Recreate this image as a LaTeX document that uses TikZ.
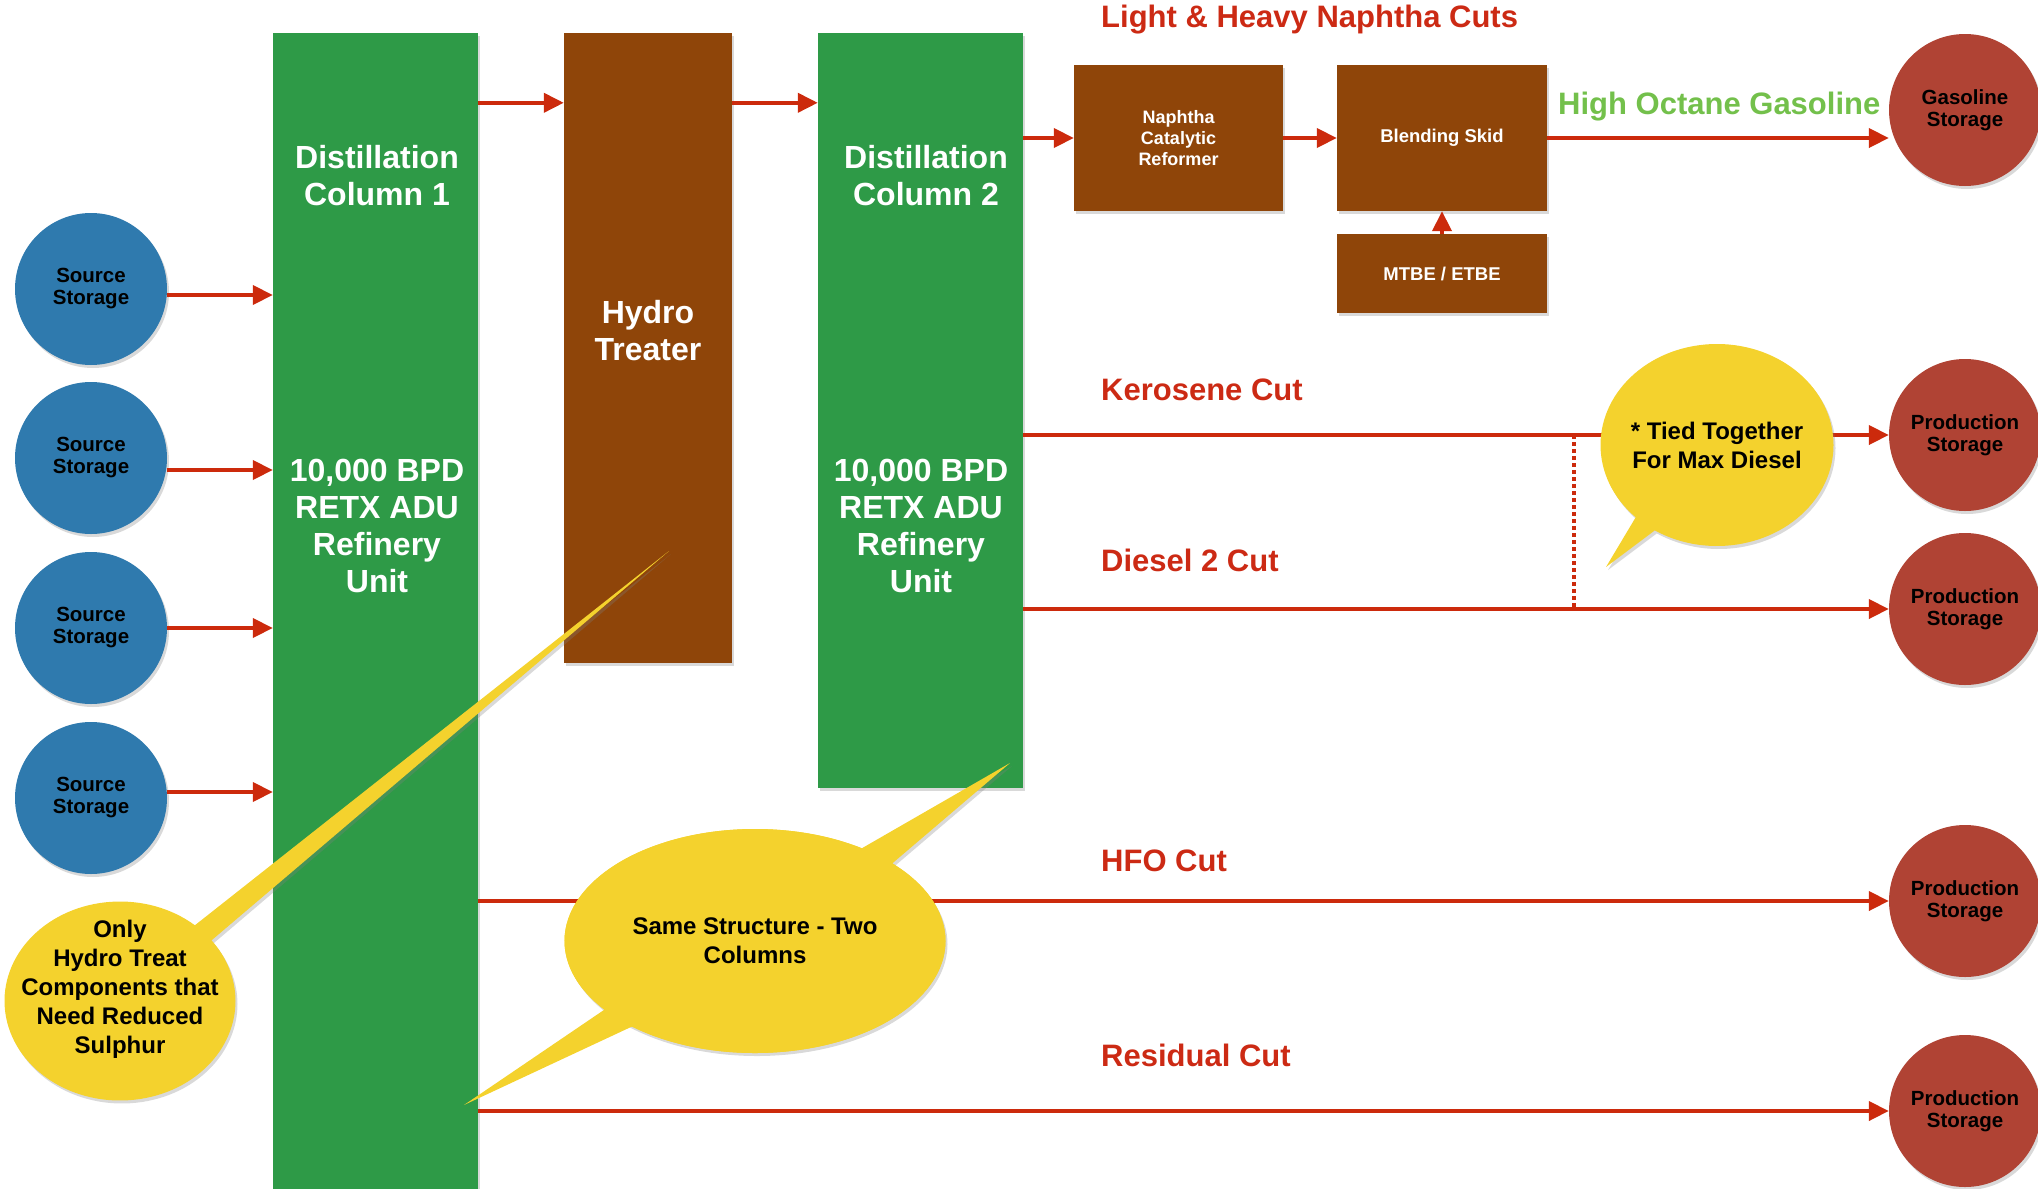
\documentclass[tikz,border=0pt]{standalone}
\usepackage{fontspec}
\setmainfont{Liberation Sans}
\usetikzlibrary{shapes.geometric,shapes.callouts,arrows.meta,shadows}

\definecolor{colgreen}{HTML}{2E9A47}
\definecolor{unitbrown}{HTML}{8F4509}
\definecolor{srcblue}{HTML}{2F7AAE}
\definecolor{prodred}{HTML}{B04334}
\definecolor{noteyellow}{HTML}{F4D22D}
\definecolor{pipered}{HTML}{CC2A0C}
\definecolor{cutred}{HTML}{CC2A14}
\definecolor{gasgreen}{HTML}{73C04B}

\newcommand{\fsz}[2]{\fontsize{#1}{#2}\selectfont\bfseries}

\tikzset{
  softshadow/.style={drop shadow={shadow xshift=2pt,shadow yshift=-3pt,opacity=.3}},
  column/.style={rectangle, fill=colgreen, inner sep=0pt, minimum width=205pt, softshadow},
  unitbox/.style={rectangle, fill=unitbrown, inner sep=0pt, text=white, align=center, softshadow},
  coltext/.style={text=white, align=center, inner sep=0pt, font=\fsz{32}{37}},
  tank/.style={circle, inner sep=0pt, minimum size=152pt, align=center, font=\fsz{20.5}{22}, softshadow},
  srctank/.style={tank, fill=srcblue},
  prodtank/.style={tank, fill=prodred},
  flow/.style={draw=pipered, line width=4pt, -{Triangle[length=20pt,width=19pt]}},
  tieline/.style={draw=pipered, line width=3.5pt, dash pattern=on 3.5pt off 3.5pt},
  cut/.style={anchor=west, inner sep=0pt, text=cutred, font=\fsz{31}{36}},
  note/.style={ellipse callout, fill=noteyellow, inner sep=0pt, callout pointer arc=12},
  notetext/.style={align=center, inner sep=0pt, font=\fsz{24}{29}},
}

\begin{document}
\begin{tikzpicture}[x=1pt,y=-1pt]
    \useasboundingbox (0,0) rectangle (2038,1189);

    %% columns and units
    \node[column, minimum height=1156pt] (col1) at (375.5,611) {};
    \node[unitbox, minimum width=168pt, minimum height=630pt] (hydro) at (648,348) {};
    \node[column, minimum height=755pt] (col2) at (920.5,410.5) {};

    \node[coltext] (col1top) at (377,176) {Distillation\\Column 1};
    \node[coltext] (col1bot) at (377,526) {10,000 BPD\\RETX ADU\\Refinery\\Unit};
    \node[coltext] (hydrotxt) at (648,331) {Hydro\\Treater};
    \node[coltext] (col2top) at (926,176) {Distillation\\Column 2};
    \node[coltext] (col2bot) at (921,526) {10,000 BPD\\RETX ADU\\Refinery\\Unit};

    \node[unitbox, minimum width=209pt, minimum height=146pt, font=\fsz{18}{21}]
        (nrf) at (1178.5,138) {Naphtha\\Catalytic\\Reformer};
    \node[unitbox, minimum width=210pt, minimum height=146pt, font=\fsz{18.5}{21}]
        (blend) at (1442,138) {Blending Skid};
    \node[unitbox, minimum width=210pt, minimum height=79pt, font=\fsz{18.5}{21}]
        (mtbe) at (1442,273.5) {MTBE / ETBE};

    %% storage
    \node[srctank] (src1) at (91,289) {Source\\Storage};
    \node[srctank] (src2) at (91,458) {Source\\Storage};
    \node[srctank] (src3) at (91,628) {Source\\Storage};
    \node[srctank] (src4) at (91,798) {Source\\Storage};

    \node[prodtank] (gas) at (1965,110) {Gasoline\\Storage};
    \node[prodtank] (prod1) at (1965,435) {Production\\Storage};
    \node[prodtank] (prod2) at (1965,609) {Production\\Storage};
    \node[prodtank] (prod3) at (1965,901) {Production\\Storage};
    \node[prodtank] (prod4) at (1965,1111) {Production\\Storage};

    %% flows
    \draw[flow] ([yshift=-6pt]src1.east) -- ([yshift=-6pt]src1.east -| col1.west);
    \draw[flow] ([yshift=-12pt]src2.east) -- ([yshift=-12pt]src2.east -| col1.west);
    \draw[flow] (src3.east) -- (src3.east -| col1.west);
    \draw[flow] ([yshift=6pt]src4.east) -- ([yshift=6pt]src4.east -| col1.west);

    \draw[flow] ([yshift=-70pt]col1.north east) -- ([yshift=-70pt]hydro.north west);
    \draw[flow] ([yshift=-70pt]hydro.north east) -- ([yshift=-70pt]col2.north west);
    \draw[flow] (nrf.west -| col2.east) -- (nrf.west);
    \draw[flow] (nrf) -- (blend);
    \draw[flow] (mtbe) -- (blend);
    \draw[flow] (blend.east) -- (blend.east -| gas.west);

    \draw[flow] (prod1.west -| col2.east) -- (prod1.west);
    \draw[flow] (prod2.west -| col2.east) -- (prod2.west);
    \draw[flow] (prod3.west -| col1.east) -- (prod3.west);
    \draw[flow] (prod4.west -| col1.east) -- (prod4.west);

    \coordinate (tie) at (1574,0);
    \draw[tieline] (tie |- prod1.west) -- (tie |- prod2.west);

    %% cut labels
    \node[cut] (naphcut) at (1101,20) {Light \& Heavy Naphtha Cuts};
    \node[cut, text=gasgreen] (gascut) at (1558,107) {High Octane Gasoline};
    \node[cut] (kerocut) at (1101,390) {Kerosene Cut};
    \node[cut] (dieselcut) at (1101,560) {Diesel 2 Cut};
    \node[cut] (hfocut) at (1101,861) {HFO Cut};
    \node[cut] (rescut) at (1101,1055) {Residual Cut};

    %% callouts
    \node[note, softshadow, minimum width=231pt, minimum height=199pt,
          callout absolute pointer={(669,551)},
          label={[notetext, yshift=12pt]center:Only\\Hydro Treat\\Components that\\Need Reduced\\Sulphur}]
        (onlyht) at (120,1001) {};
    \node[note, softshadow, minimum width=381pt, minimum height=224pt,
          callout absolute pointer={(1010,763)}] (same) at (755,941) {};
    \node[note, minimum width=381pt, minimum height=224pt,
          callout absolute pointer={(464,1105)},
          label={[notetext]center:Same Structure - Two\\Columns}] (same2) at (755,941) {};
    \node[note, softshadow, minimum width=233pt, minimum height=202pt,
          callout absolute pointer={(1606,567)},
          label={[notetext]center:* Tied Together\\For Max Diesel}] (tied) at (1717,445) {};
\end{tikzpicture}
\end{document}
